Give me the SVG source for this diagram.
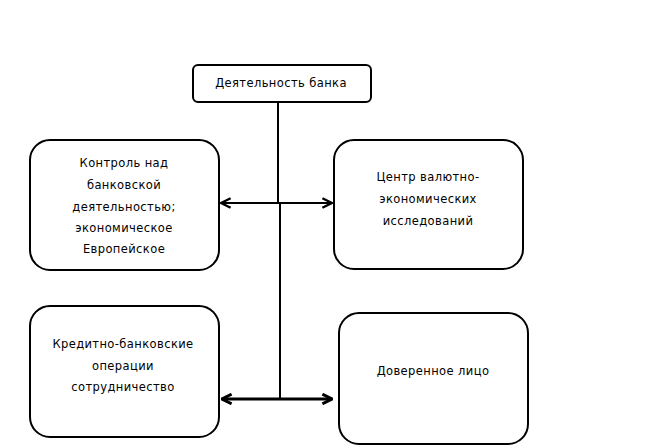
<svg xmlns="http://www.w3.org/2000/svg" width="655" height="448" viewBox="0 0 655 448">
<style>
.box{fill:#fff;stroke:#000;stroke-width:2}
.t{font-family:"DejaVu Sans","Liberation Sans",sans-serif;font-size:11.5px;fill:#000;text-anchor:middle;letter-spacing:0.4px}
.ln{stroke:#000;stroke-width:2;fill:none}
</style>
<defs>
<marker id="a" viewBox="0 0 10 10" refX="9" refY="5" markerWidth="6" markerHeight="6" orient="auto-start-reverse" markerUnits="strokeWidth">
<path d="M1,1 L9,5 L1,9" fill="none" stroke="#000" stroke-width="2"/>
</marker>
<marker id="b" viewBox="0 0 10 10" refX="9" refY="5" markerWidth="4" markerHeight="4" orient="auto-start-reverse" markerUnits="strokeWidth">
<path d="M1,1 L9,5 L1,9" fill="none" stroke="#000" stroke-width="2.5"/>
</marker>
</defs>
<rect width="655" height="448" fill="#fff"/>
<g id="connectors">
<path class="ln" d="M278,103 V204 M280,204 V399"/>
<path class="ln" d="M221,203 H332" marker-start="url(#a)" marker-end="url(#a)"/>
<path class="ln" d="M222,399 H332" marker-start="url(#b)" marker-end="url(#b)" style="stroke-width:3"/>
</g>
<g id="n-top">
<rect class="box" x="193" y="65" width="178" height="37" rx="5"/>
<text class="t" x="281" y="87">Деятельность банка</text>
</g>
<g id="n-control">
<rect class="box" x="30" y="140" width="189" height="130" rx="20"/>
<text class="t" x="124" y="167">Контроль над</text>
<text class="t" x="124" y="189">банковской</text>
<text class="t" x="124" y="211">деятельностью;</text>
<text class="t" x="124" y="232">экономическое</text>
<text class="t" x="124" y="253">Европейское</text>
</g>
<g id="n-center">
<rect class="box" x="334" y="140" width="189" height="129" rx="20"/>
<text class="t" x="428" y="181">Центр валютно-</text>
<text class="t" x="428" y="203">экономических</text>
<text class="t" x="428" y="225">исследований</text>
</g>
<g id="n-credit">
<rect class="box" x="30" y="306" width="189" height="131" rx="20"/>
<text class="t" x="123" y="348">Кредитно-банковские</text>
<text class="t" x="123" y="370">операции</text>
<text class="t" x="123" y="391">сотрудничество</text>
</g>
<g id="n-trust">
<rect class="box" x="339" y="313" width="189" height="131" rx="20"/>
<text class="t" x="433" y="375">Доверенное лицо</text>
</g>
</svg>
